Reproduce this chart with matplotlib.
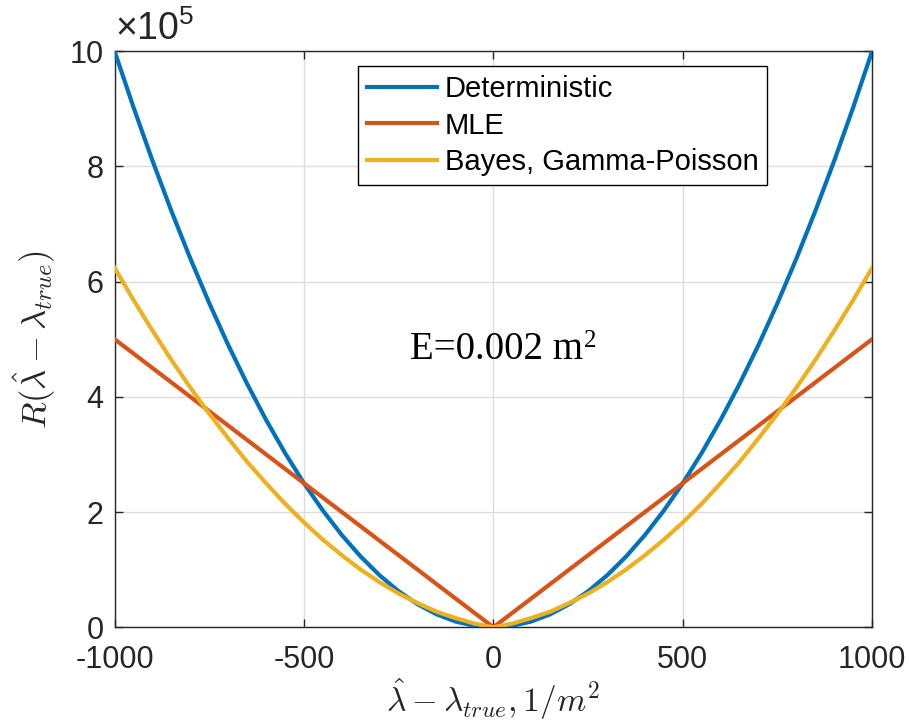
import numpy as np
import matplotlib
matplotlib.use("Agg")
import matplotlib.pyplot as plt
from matplotlib.ticker import FuncFormatter

OUTPUT_FIG = "out.png"

# x values (lambda_hat - lambda_true, 1/m^2)
x_vals = [-1000, -950, -900, -850, -800, -750, -700, -650, -600, -550, -500,
          -450, -400, -350, -300, -250, -200, -150, -100, -50, 0,
          50, 100, 150, 200, 250, 300, 350, 400, 450, 500,
          550, 600, 650, 700, 750, 800, 850, 900, 950, 1000]

# risk values (units of 1e5)
deterministic = [10.0, 9.025, 8.1, 7.225, 6.4, 5.625, 4.9, 4.225, 3.6, 3.025, 2.5,
                 2.025, 1.6, 1.225, 0.9, 0.625, 0.4, 0.225, 0.1, 0.025, 0.0,
                 0.025, 0.1, 0.225, 0.4, 0.625, 0.9, 1.225, 1.6, 2.025, 2.5,
                 3.025, 3.6, 4.225, 4.9, 5.625, 6.4, 7.225, 8.1, 9.025, 10.0]
mle = [5.0, 4.75, 4.5, 4.25, 4.0, 3.75, 3.5, 3.25, 3.0, 2.75, 2.5,
       2.25, 2.0, 1.75, 1.5, 1.25, 1.0, 0.75, 0.5, 0.25, 0.0,
       0.25, 0.5, 0.75, 1.0, 1.25, 1.5, 1.75, 2.0, 2.25, 2.5,
       2.75, 3.0, 3.25, 3.5, 3.75, 4.0, 4.25, 4.5, 4.75, 5.0]
bayes = [6.24, 5.68, 5.15, 4.64, 4.16, 3.705, 3.28, 2.87, 2.5, 2.145, 1.82,
         1.52, 1.25, 1.0, 0.78, 0.585, 0.42, 0.27, 0.16, 0.065, 0.0,
         0.065, 0.16, 0.27, 0.42, 0.585, 0.78, 1.0, 1.25, 1.52, 1.82,
         2.145, 2.5, 2.87, 3.28, 3.705, 4.16, 4.64, 5.15, 5.68, 6.24]

SCALE = 1e5
labels = ["Deterministic", "MLE", "Bayes, Gamma-Poisson"]
colors = ["#0072BD", "#D95319", "#EDB120"]

plt.rcParams["font.family"] = ["Liberation Sans", "DejaVu Sans"]
plt.rcParams["mathtext.rm"] = "Liberation Sans"
plt.rcParams["axes.unicode_minus"] = False

AX_COLOR = "#262626"


def main():
    fig = plt.figure(figsize=(9.09, 7.25), dpi=100)
    ax = fig.add_axes([0.1260, 0.1348, 0.8335, 0.7948])

    x = np.array(x_vals)
    for series, lab, col in zip([deterministic, mle, bayes], labels, colors):
        ax.plot(x, np.array(series) * SCALE, color=col, linewidth=3.0,
                label=lab, zorder=3)

    ax.set_xlim(-1000, 1000)
    ax.set_ylim(0, 1e6)
    ax.set_xticks([-1000, -500, 0, 500, 1000])
    ax.set_yticks(np.arange(0, 11, 2) * SCALE)
    ax.yaxis.set_major_formatter(FuncFormatter(lambda v, p: f"{v / SCALE:g}"))

    ax.grid(True, color="#dcdcdc", linewidth=1.0, zorder=0)
    ax.tick_params(direction="in", length=6, width=1.0, colors=AX_COLOR,
                   labelsize=22, top=True, right=True)
    ax.tick_params(axis="x", pad=13)
    ax.tick_params(axis="y", pad=8)
    for sp in ax.spines.values():
        sp.set_color(AX_COLOR)
        sp.set_linewidth(1.0)

    # x10^5 multiplier above the y axis
    ax.text(0.0, 1.006, r"$\times\mathrm{10}^{\mathrm{5}}$", transform=ax.transAxes,
            fontsize=27, color=AX_COLOR, ha="left", va="bottom",
            math_fontfamily="custom")

    ax.set_xlabel(r"$\hat{\lambda} - \lambda_{true}, 1/m^2$", fontsize=24,
                  color=AX_COLOR, math_fontfamily="cm", labelpad=1)
    ax.set_ylabel(r"$R(\hat{\lambda} - \lambda_{true})$", fontsize=25,
                  color=AX_COLOR, math_fontfamily="cm", labelpad=8)

    # annotation: E=0.002 m^2
    note = ax.text(-219, 4.65e5, "E=0.002 m", fontsize=28, family="Liberation Serif",
                   ha="left", va="baseline", zorder=4)
    ax.annotate("2", xy=(1.0, 1.04), xycoords=note, fontsize=18,
                family="Liberation Serif", ha="left", va="top", zorder=4)

    leg = ax.legend(loc="upper left", bbox_to_anchor=(0.322, 0.974),
                    fontsize=21, handlelength=2.4, handletextpad=0.25,
                    labelspacing=0.3, borderpad=0.3, borderaxespad=0.0,
                    fancybox=False, framealpha=1.0)
    leg.get_frame().set_edgecolor("black")
    leg.get_frame().set_linewidth(1.0)

    fig.savefig(OUTPUT_FIG, dpi=100)
    print(f"Saved: {OUTPUT_FIG}")


if __name__ == "__main__":
    main()
